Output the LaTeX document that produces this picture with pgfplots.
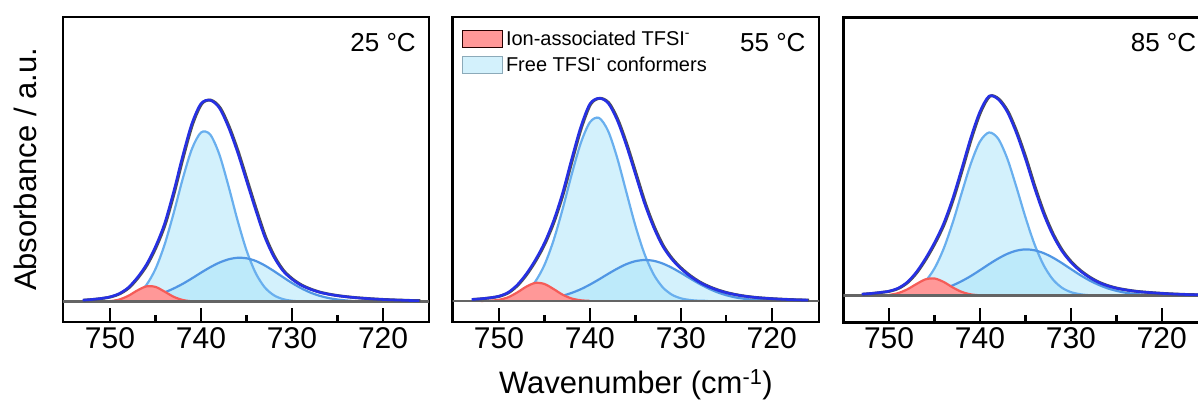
\documentclass[border=0pt]{standalone}
\usepackage{pgfplots}
\pgfplotsset{compat=1.18}
\usepackage{pgfplotstable}
\usepackage{fontspec}
\setmainfont{Liberation Sans}

\definecolor{bfill}{RGB}{167,227,249}
\definecolor{bigline}{RGB}{105,175,238}
\definecolor{broadline}{RGB}{80,150,228}
\definecolor{rfill}{RGB}{255,152,152}
\definecolor{rline}{RGB}{245,92,88}
\definecolor{envc}{RGB}{38,48,228}
\definecolor{datac}{RGB}{80,80,80}
\definecolor{basec}{RGB}{100,100,100}
\definecolor{legbfill}{RGB}{211,241,252}
\definecolor{legbdraw}{RGB}{140,170,185}

% 25 C
\pgfplotstableread{
x env big broad red
753 1.5 0 0 0
752 2.2 0 0 0
751 3.2 0 0 0.1
750 4.8 0.3 0.2 0.55
749 8 1.1 0.8 2.1
748 14 3.1 1.4 5.8
747 24 7.7 2.4 11.2
746 37 16.7 4.0 15.3
745 55 32.7 6.2 14.8
744 78 57.0 9.3 10.1
743 110 88.6 13.2 4.9
742 146 123.1 17.9 1.7
741 178 152.7 23.3 0.4
740 198 169.2 29.0 0
739 201.5 167.3 34.4 0
738 194 147.7 39.0 0
737 175 116.4 42.3 0
736 150 81.9 43.9 0
735 121 51.4 43.4 0
734 92 28.8 40.8 0
733 65 14.4 36.3 0
732 45 6.5 30.7 0
731 31 2.6 24.6 0
730 22.5 0.9 18.7 0
729 16.5 0.3 13.5 0
728 12.5 0.1 9.2 0
727 9.5 0 6.0 0
726 7.5 0 3.7 0
725 6 0 2.2 0
724 4.9 0 1.2 0
723 4.0 0 0.6 0
722 3.3 0 0.3 0
721 2.7 0 0.1 0
720 2.2 0 0 0
719 1.8 0 0 0
718 1.5 0 0 0
717 1.2 0 0 0
716 1.0 0 0 0
}\tA

% 55 C
\pgfplotstableread{
x env big broad red
753 1.5 0 0 0
752 2.2 0 0 0.05
751 3.2 0.2 0 0.3
750 4.8 0.6 0.1 1.2
749 8.5 1.7 0.2 3.7
748 16 4.2 0.3 8.5
747 27 9.5 0.6 14.3
746 41 19.5 1.1 18.1
745 58 36.0 2.0 17.0
744 80 60.5 3.3 12.0
743 108 91.9 5.3 6.3
742 142 126.6 8.1 2.5
741 174 158.0 11.8 0.7
740 197 178.7 16.4 0.1
739 202.7 183.1 21.6 0
738 198 170.1 27.1 0
737 181 143.2 32.3 0
736 156 109.2 36.8 0
735 127 75.4 39.8 0
734 98 47.2 41.0 0
733 74 26.8 40.2 0
732 55 13.8 37.5 0
731 42 6.4 33.3 0
730 32.5 2.7 28.2 0
729 25 1.0 22.7 0
728 19 0.3 17.4 0
727 14.5 0.1 12.7 0
726 11 0 8.8 0
725 8.3 0 5.8 0
724 6.3 0 3.6 0
723 4.8 0 2.2 0
722 3.7 0 1.2 0
721 2.9 0 0.7 0
720 2.3 0 0.3 0
719 1.8 0 0.1 0
718 1.4 0 0 0
717 1.1 0 0 0
716 0.9 0 0 0
}\tB

% 85 C
\pgfplotstableread{
x env big broad red
753 1.5 0 0 0
752 2.2 0 0 0.05
751 3.2 0.1 0 0.2
750 4.5 0.4 0.25 0.8
749 7.5 1.2 0.5 2.6
748 13.5 3.0 0.9 6.3
747 23.5 7.0 1.6 11.6
746 37 14.5 2.7 16.3
745 53 27.3 4.5 17.2
744 72 46.8 6.9 13.8
743 97 72.8 10.3 8.3
742 127 102.9 14.6 3.8
741 158 132.1 19.7 1.3
740 184 154.1 25.5 0.4
739 199.5 163.2 31.5 0.1
738 196.5 157.1 37.1 0
737 184 137.3 41.8 0
736 163 109.0 45.0 0
735 137 78.6 46.3 0
734 108 51.5 45.4 0
733 82 30.6 42.6 0
732 61 16.5 38.2 0
731 45 8.1 32.7 0
730 33.5 3.6 26.7 0
729 25 1.5 20.8 0
728 18.5 0.5 15.5 0
727 13.5 0.2 11.1 0
726 10 0 7.5 0
725 7.5 0 4.9 0
724 5.8 0 3.0 0
723 4.5 0 1.8 0
722 3.6 0 1.0 0
721 2.9 0 0.5 0
720 2.3 0 0.2 0
719 1.8 0 0 0
718 1.4 0 0 0
717 1.1 0 0 0
716 0.9 0 0 0
715 0.7 0 0 0
}\tC

\pgfplotsset{
  panel/.style={
    scale only axis, width=366pt, height=305pt, anchor=south west,
    x dir=reverse,
    axis line style={line width=2.6pt},
    xtick={720,730,740,750}, minor xtick={725,735,745},
    xtick pos=left, tick align=inside,
    major tick length=14pt, minor tick length=7pt,
    major tick style={line width=2.4pt,black},
    minor tick style={line width=2.4pt,black},
    ytick=\empty,
    xticklabel style={font=\fontsize{30}{36}\selectfont, yshift=-2pt},
    /pgf/number format/assume math mode=true,
  },
  cfill/.style={draw=none, fill=bfill, fill opacity=0.5, smooth, forget plot},
  bigl/.style={bigline, line width=2.2pt, smooth, forget plot},
  broadl/.style={broadline, line width=2.2pt, smooth, forget plot},
  redf/.style={draw=none, fill=rfill, smooth, forget plot},
  redl/.style={rline, line width=2.2pt, smooth, forget plot},
  basel/.style={basec, line width=2.6pt, forget plot},
  datal/.style={datac, line width=2.9pt, smooth, forget plot, xshift=0.9pt},
  envl/.style={envc, line width=2.6pt, smooth, forget plot},
}
\tikzset{templabel/.style={anchor=north east, inner sep=0pt, font=\fontsize{26}{30}\selectfont}}

\newcommand{\drawpanel}[1]{%
  \addplot[cfill, restrict x to domain=727:750] table[x=x,y=big]{#1} \closedcycle;
  \addplot[cfill, restrict x to domain=719:750] table[x=x,y=broad]{#1} \closedcycle;
  \addplot[bigl, restrict x to domain=727:750] table[x=x,y=big]{#1};
  \addplot[broadl, restrict x to domain=719:750] table[x=x,y=broad]{#1};
  \addplot[redf, restrict x to domain=740:752] table[x=x,y=red]{#1} \closedcycle;
  \addplot[redl, restrict x to domain=740:752] table[x=x,y=red]{#1};
  \addplot[basel] coordinates {(712,0) (758,0)};
  \addplot[datal] table[x=x,y=env]{#1};
  \addplot[envl] table[x=x,y=env]{#1};
}

\begin{document}
\begin{tikzpicture}
\useasboundingbox (0,0) rectangle (1198pt,403pt);
\clip (0,0) rectangle (1198pt,403pt);

\begin{axis}[panel, at={(63pt,81pt)},
  xmin=714.95, xmax=755.16, ymin=-20.3, ymax=284.7,
  ylabel={Absorbance / a.u.},
  ylabel style={font=\fontsize{31}{36}\selectfont, at={(axis description cs:-0.1038,0.5)}, anchor=center}]
  \drawpanel{\tA}
  \node[templabel] at (axis description cs:0.9645,0.9466) {25 °C};
\end{axis}

\begin{axis}[panel, at={(452.7pt,81pt)}, width=366.3pt,
  xmin=714.8, xmax=755.09, ymin=-21, ymax=284,
  xlabel={Wavenumber (cm\textsuperscript{-1})},
  xlabel style={font=\fontsize{31}{36}\selectfont, at={(axis description cs:0.5,-0.2066)}, anchor=center},
  legend image code/.code={\draw[#1] (0pt,-8.5pt) rectangle (40pt,8.5pt);},
  legend cell align=left,
  legend style={draw=none, fill=none, inner sep=0pt, row sep=4pt,
    at={(axis description cs:0.0238,0.9649)}, anchor=north west,
    font=\fontsize{20}{23}\selectfont, nodes={inner sep=3pt}}]
  \addlegendimage{fill=rfill, draw=black!85!red, line width=1.4pt}
  \addlegendentry{Ion-associated TFSI\textsuperscript{-}}
  \addlegendimage{fill=legbfill, draw=legbdraw, line width=1.4pt}
  \addlegendentry{Free TFSI\textsuperscript{-} conformers}
  \drawpanel{\tB}
  \node[templabel] at (axis description cs:0.9636,0.9466) {55 °C};
\end{axis}

\begin{axis}[panel, at={(843.3pt,80.7pt)},
  xmin=714.77, xmax=755.03, ymin=-26.6, ymax=278.4]
  \drawpanel{\tC}
  \node[templabel] at (axis description cs:0.9645,0.9466) {85 °C};
\end{axis}
\end{tikzpicture}
\end{document}
